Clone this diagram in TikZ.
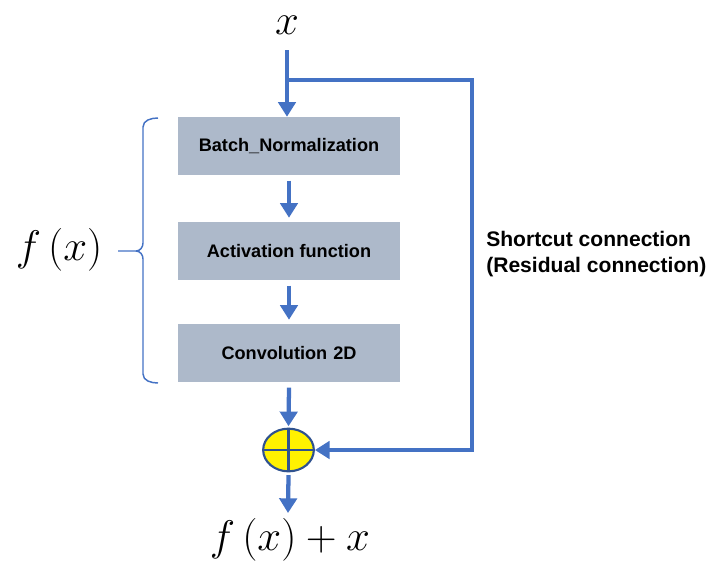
\documentclass[tikz,border=0pt]{standalone}
\usepackage{fontspec}
\usepackage{graphicx}
\newfontfamily\lblfont{Liberation Sans}
\usetikzlibrary{arrows.meta,shapes.geometric}
\definecolor{flowblue}{HTML}{4472C4}
\definecolor{boxgray}{HTML}{ADB9CA}
\definecolor{rimblue}{HTML}{2F528F}
\newcommand{\bigmath}[1]{\scalebox{1.29}{$#1$}}
\begin{document}
\begin{tikzpicture}[x=0.75pt,y=-0.75pt,
  layerbox/.style={fill=boxgray,draw=none,minimum width=166.5pt,minimum height=43.5pt,
    inner sep=0pt,font=\lblfont\bfseries\fontsize{13.6}{16}\selectfont},
  flow/.style={draw=flowblue,line width=3.2pt,-{Triangle[width=13pt,length=11pt]}},
  mathlbl/.style={inner sep=0pt,font=\fontsize{24.88}{30}\selectfont}]
\useasboundingbox (0,0) rectangle (720,565);

% input, layers and summation
\node[mathlbl] (xin) at (287,25) {\bigmath{x}};
\node[layerbox] (bn) at (289,146) {Batch\_Normalization};
\node[layerbox] (act) at (289,251) {Activation function};
\node[layerbox] (conv) at (289,353) {Convolution\,\,2D};
\node[ellipse,draw=rimblue,line width=1.6pt,fill=yellow,minimum width=38pt,minimum height=32pt,inner sep=0pt] (sum) at (288.5,450) {};
\draw[rimblue,line width=1.6pt] (sum.north) -- (sum.south) (sum.west) -- (sum.east);
\node[mathlbl] (out) at (290,540) {\bigmath{f\,(x)+x}};
\node[mathlbl] (fx) at (59,250) {\bigmath{f\,(x)}};
\node[anchor=west,align=left,inner sep=0pt,font=\lblfont\bfseries\fontsize{15.8}{19.5}\selectfont] (sc) at (486,254)
  {Shortcut connection\\(Residual connection)};

% main path
\coordinate (top) at (287,50);
\coordinate (split) at (287,80);
\coordinate (outtip) at (288,513);
\draw[flow] (top) -- (bn.north -| top);
\draw[flow] ([yshift=-4pt]bn.south) -- ([yshift=3pt]act.north);
\draw[flow] ([yshift=-4pt]act.south) -- ([yshift=3pt]conv.north);
\draw[flow] ([yshift=-4pt]conv.south) -- ([yshift=1pt]sum.north);
\draw[flow] ([yshift=-2pt]sum.south) -- (outtip);

% shortcut
\draw[flow] (split) -- (472,80) |- (sum.east);

% brace around the layers
\draw[flowblue,line width=1.1pt]
  (158,118) to[out=180,in=90] (143,127) -- (143,243) to[out=-90,in=0] (136,251) -- (118,251)
  (136,251) to[out=0,in=90] (143,259) -- (143,374) to[out=-90,in=180] (158,383);
\end{tikzpicture}
\end{document}
